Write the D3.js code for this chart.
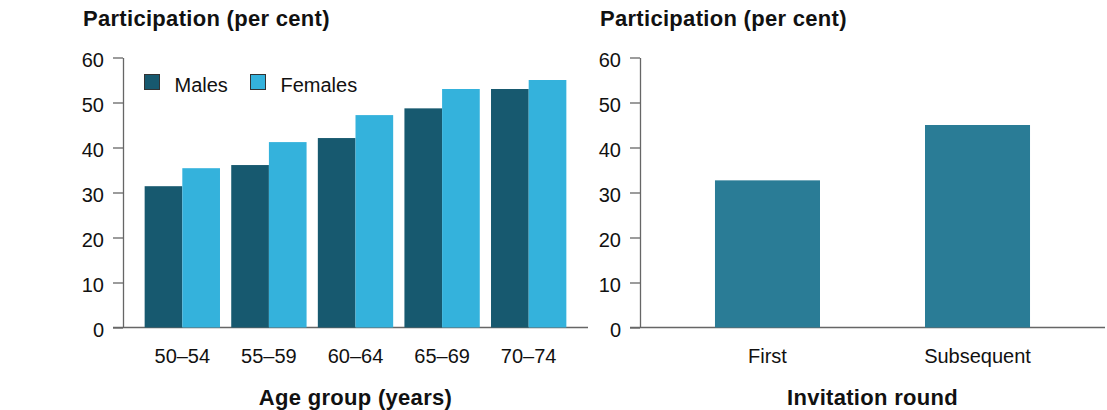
<!DOCTYPE html>
<html>
<head>
<meta charset="utf-8">
<script src="https://cdn.jsdelivr.net/npm/d3@7"></script>
<style>
  body { margin: 0; background: #fff; }
  svg text { font-family: "Liberation Sans", Arial, sans-serif; fill: #111; }
  .title { font-weight: bold; font-size: 22px; letter-spacing: 0.3px; }
  .axis text { font-size: 20px; }
</style>
</head>
<body>
<div id="chart"></div>
<script>
// Data
const ageGroups = ["50–54", "55–59", "60–64", "65–69", "70–74"];
const sexes = ["Males", "Females"];
const males = [31.4, 36.1, 42.1, 48.7, 53.0];
const females = [35.4, 41.2, 47.2, 53.0, 55.0];

const rounds = ["First", "Subsequent"];
const roundValues = [32.7, 45.0];

const yTicks = [0, 10, 20, 30, 40, 50, 60];

const ageData = ageGroups.map((g, i) => ({ group: g, Males: males[i], Females: females[i] }));
const roundData = rounds.map((r, i) => ({ round: r, value: roundValues[i] }));

const W = 1107, H = 410;
const plotTop = 57.5, plotBottom = 327.5;

const svg = d3.select("#chart")
    .append("svg")
    .attr("width", W)
    .attr("height", H);

const color = d3.scaleOrdinal()
    .domain(sexes)
    .range(["#17596f", "#34b2dc"]);

const yScale = d3.scaleLinear()
    .domain([0, 60])
    .range([plotBottom, plotTop]);

// draws y axis, baseline and titles for one panel
function drawFrame(left, right, xTitle) {
    const yAxis = svg.append("g")
        .attr("class", "axis")
        .attr("transform", `translate(${left},0)`)
        .call(d3.axisLeft(yScale).tickValues(yTicks).tickSize(10).tickSizeOuter(0).tickPadding(9));
    yAxis.selectAll("line").attr("stroke", "#666").attr("stroke-width", 1.3);
    yAxis.select(".domain").attr("stroke", "#666").attr("stroke-width", 1.3);
    yAxis.selectAll("text").attr("dy", "0.47em");

    // baseline
    svg.append("line")
        .attr("x1", left - 10).attr("x2", right)
        .attr("y1", yScale(0)).attr("y2", yScale(0))
        .attr("stroke", "#666")
        .attr("stroke-width", 1.5);

    // y title
    svg.append("text")
        .attr("class", "title")
        .attr("x", left - 40)
        .attr("y", 26)
        .text("Participation (per cent)");

    // x title
    svg.append("text")
        .attr("class", "title")
        .attr("x", (left + right) / 2)
        .attr("y", 405)
        .attr("text-anchor", "middle")
        .text(xTitle);
}

// Left panel: age groups
const x0 = d3.scaleBand()
    .domain(ageGroups)
    .range([123, 588])
    .paddingInner(0.13)
    .paddingOuter(0.25);

const x1 = d3.scaleBand()
    .domain(sexes)
    .range([0, x0.bandwidth()]);

drawFrame(123, 588, "Age group (years)");

const groups = svg.selectAll(".barGroup")
    .data(ageData)
    .enter()
    .append("g")
    .attr("transform", d => `translate(${x0(d.group)},0)`);

groups.selectAll("rect")
    .data(d => sexes.map(s => ({ sex: s, value: d[s] })))
    .enter()
    .append("rect")
    .attr("x", d => x1(d.sex))
    .attr("y", d => yScale(d.value))
    .attr("width", x1.bandwidth())
    .attr("height", d => yScale(0) - yScale(d.value))
    .attr("fill", d => color(d.sex));

const xAxisL = svg.append("g")
    .attr("class", "axis")
    .attr("transform", `translate(0,${yScale(0)})`)
    .call(d3.axisBottom(x0).tickSize(0).tickPadding(21));
xAxisL.select(".domain").remove();

// legend
const legend = svg.append("g").attr("transform", "translate(144.5,74.5)");
const legendX = [0, 106];
sexes.forEach((s, i) => {
    legend.append("rect")
        .attr("x", legendX[i])
        .attr("y", 0)
        .attr("width", 15)
        .attr("height", 15)
        .attr("fill", color(s))
        .attr("stroke", "#333")
        .attr("stroke-width", 1);
    legend.append("text")
        .attr("x", legendX[i] + 30)
        .attr("y", 17)
        .style("font-size", "20px")
        .text(s);
});

// Right panel: invitation round
const xR = d3.scaleBand()
    .domain(rounds)
    .range([640, 1105])
    .paddingInner(0.5)
    .paddingOuter(0.357);

drawFrame(640, 1105, "Invitation round");

svg.selectAll(".roundBar")
    .data(roundData)
    .enter()
    .append("rect")
    .attr("class", "roundBar")
    .attr("x", d => xR(d.round))
    .attr("y", d => yScale(d.value))
    .attr("width", xR.bandwidth())
    .attr("height", d => yScale(0) - yScale(d.value))
    .attr("fill", "#2a7c96");

const xAxisR = svg.append("g")
    .attr("class", "axis")
    .attr("transform", `translate(0,${yScale(0)})`)
    .call(d3.axisBottom(xR).tickSize(0).tickPadding(21));
xAxisR.select(".domain").remove();

svg.selectAll(".axis text").style("font-family", "'Liberation Sans', Arial, sans-serif").attr("fill", "#111");
</script>
</body>
</html>
